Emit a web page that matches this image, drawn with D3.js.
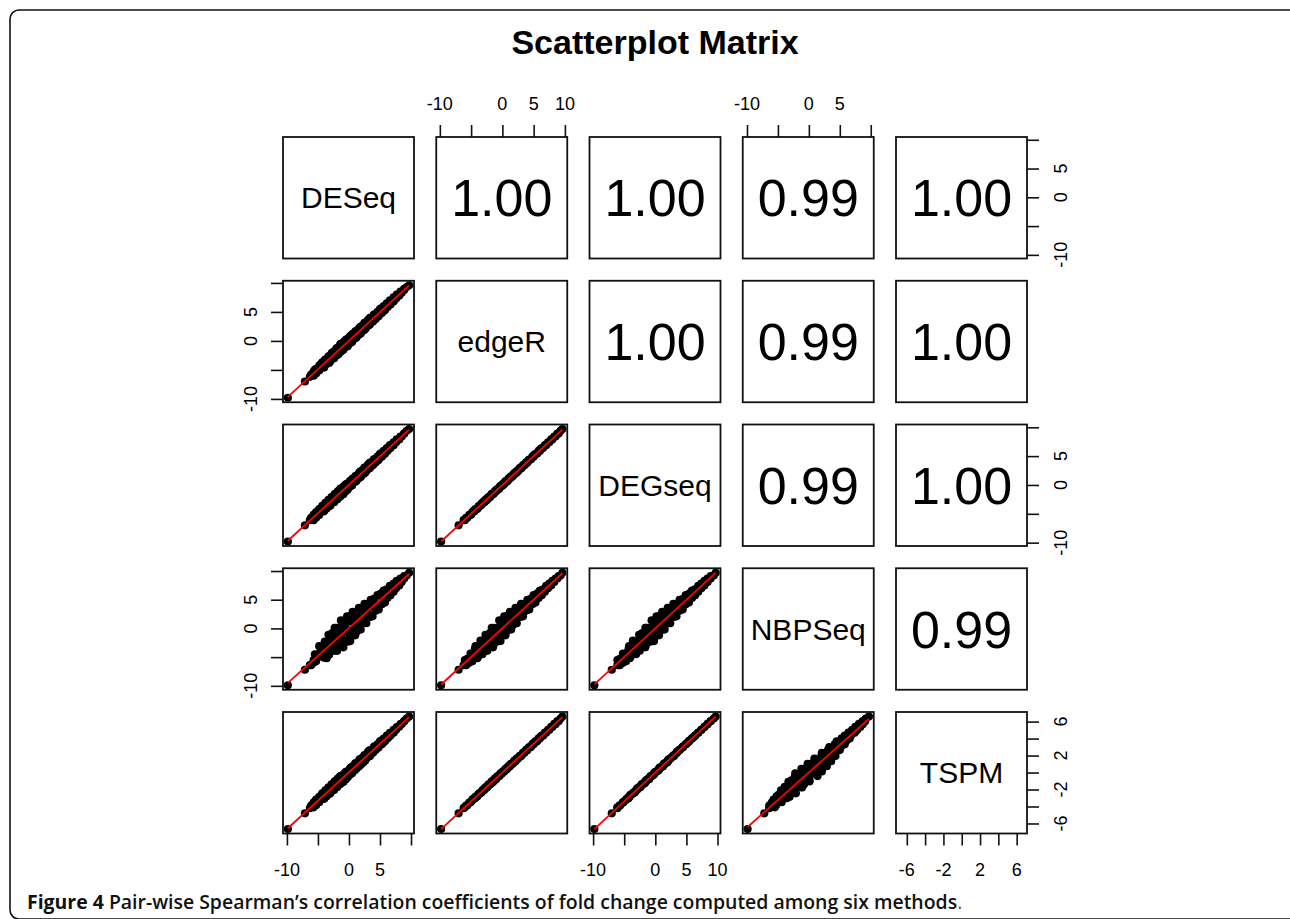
<!DOCTYPE html>
<html><head><meta charset="utf-8">
<script src="https://cdn.jsdelivr.net/npm/d3@7"></script>
<style>body{margin:0;background:#fff}svg{display:block}</style>
</head><body>
<svg id="c" width="1290" height="919"></svg>
<script>
// ---------------- data ----------------
const methods = ["DESeq", "edgeR", "DEGseq", "NBPSeq", "TSPM"];

// log fold change of the same genes, one array per method
const edger = [-9.8,-7.0,-6.2,-6.0,-5.8,-5.6,-5.3,-5.1,-4.8,-4.5,-4.3,-4.0,-3.7,-3.5,-3.2,-2.9,-2.7,-2.4,-2.2,-1.9,
  -1.7,-1.5,-1.2,-1.0,-0.8,-0.5,-0.3,-0.1,0.1,0.3,0.5,0.7,1.0,1.2,1.4,1.6,1.9,2.1,2.3,2.6,
  2.8,3.0,3.3,3.5,3.8,4.0,4.3,4.5,4.8,5.0,5.3,5.5,5.8,6.0,6.3,6.5,6.8,7.0,7.3,7.5,
  7.8,8.0,8.3,8.5,8.8,9.0,9.3,9.6,
  -5.0,-4.6,-4.1,-3.8,-3.3,-3.0,-2.6,-2.3,-2.0,-1.6,-1.3,-0.9,-0.6,-0.2,0.2,0.6,0.9,1.3,1.7,2.0,
  2.4,2.7,3.1,3.4,3.9,4.2,4.6,5.1,5.6,6.1,
  -4.4,-3.9,-3.4,-2.8,-2.5,-2.1,-1.8,-1.4,-1.1,-0.7,-0.4,0.0,0.4,0.8,1.1,1.5,1.8,2.2,2.9,3.6];
const deseq = [-9.85,-7.1,-6.3,-5.7,-6.1,-5.3,-5.7,-4.8,-5.3,-4.1,-4.8,-3.6,-4.3,-3.0,-3.8,-2.4,-3.3,-1.9,-2.8,-1.4,
  -2.3,-0.9,-1.8,-0.5,-1.4,-1.3,0.2,-0.8,0.6,-0.3,1.0,0.1,1.5,0.6,1.9,1.1,2.4,1.6,2.8,2.1,
  3.3,2.5,3.8,3.0,4.3,3.5,4.8,4.0,5.3,4.6,5.8,5.0,6.2,5.6,6.7,6.1,7.2,6.6,7.6,7.2,
  8.1,7.7,8.5,8.3,8.9,8.9,9.3,9.7,
  -5.5,-4.0,-4.6,-3.2,-3.9,-2.4,-3.2,-1.7,-2.7,-1.0,-2.0,-0.2,-1.4,0.5,-0.5,1.2,0.3,1.9,1.1,2.6,
  1.8,3.2,2.5,3.9,3.3,4.7,4.1,5.5,5.2,6.4,
  -4.0,-4.4,-3.0,-3.3,-2.0,-2.6,-1.3,-1.9,-0.6,-1.2,0.1,-0.5,0.9,0.3,1.6,1.0,2.3,1.7,3.4,3.1];
const degseq = [-9.8,-7.0,-6.1,-6.1,-5.7,-5.7,-5.2,-5.2,-4.7,-4.6,-4.2,-4.1,-3.6,-3.6,-3.1,-3.0,-2.6,-2.5,-2.1,-2.0,
  -1.6,-1.6,-1.1,-1.1,-0.7,-0.6,-0.2,-0.2,0.2,0.2,0.6,0.6,1.1,1.1,1.5,1.5,2.0,2.0,2.4,2.5,
  2.9,2.9,3.4,3.4,3.9,3.9,4.4,4.4,4.9,4.9,5.4,5.4,5.9,5.9,6.4,6.4,6.9,6.9,7.4,7.4,
  7.9,7.9,8.4,8.4,8.9,8.9,9.4,9.7,
  -5.1,-4.5,-4.2,-3.7,-3.4,-2.9,-2.7,-2.2,-2.1,-1.5,-1.4,-0.8,-0.7,-0.1,0.1,0.7,0.8,1.4,1.6,2.1,
  2.3,2.8,3.0,3.5,3.8,4.3,4.5,5.2,5.5,6.2,
  -4.3,-4.0,-3.3,-2.9,-2.4,-2.2,-1.7,-1.5,-1.0,-0.8,-0.3,-0.1,0.5,0.7,1.2,1.4,1.9,2.1,3.0,3.5];
const nbpseq = [-9.9,-7.2,-6.4,-5.5,-6.4,-5.3,-6.0,-4.4,-5.7,-4.3,-3.1,-5.2,-3.3,-2.1,-4.5,-3.2,-1.1,-3.9,-1.6,-2.5,
  0.1,-3.3,-1.0,0.0,-2.0,1.4,-2.2,0.3,-0.5,2.1,-1.2,1.5,0.8,2.9,-0.2,1.9,1.0,3.6,0.9,3.2,
  2.3,4.3,2.1,3.6,3.1,5.0,3.3,4.9,4.2,5.8,4.5,5.7,5.3,6.6,5.8,6.8,6.4,7.4,7.0,7.8,
  7.5,8.3,8.1,8.7,8.7,9.1,9.2,9.7,
  -4.5,-5.1,-3.2,-4.6,-2.3,-3.9,-2.3,-3.3,-0.8,-2.0,0.1,-2.3,0.1,-1.1,1.5,-0.6,1.2,2.4,0.6,2.9,
  2.2,3.7,2.2,4.1,4.1,3.8,5.2,4.7,6.1,5.9,
  -3.6,-4.9,-3.0,-3.5,-1.2,-2.4,-1.2,-2.8,-0.6,-0.3,-1.6,1.0,0.1,2.2,0.2,2.0,1.3,3.4,2.0,4.3];
const tspm = [-6.65,-4.8,-4.2,-4.1,-3.9,-3.85,-3.55,-3.5,-3.2,-3.1,-2.85,-2.8,-2.45,-2.45,-2.1,-2.05,-1.75,-1.7,-1.4,-1.35,
  -1.05,-1.1,-0.72,-0.78,-0.45,-0.42,-0.1,-0.15,0.15,0.12,0.42,0.4,0.76,0.74,1.03,1.0,1.37,1.35,1.64,1.7,
  1.98,1.96,2.32,2.3,2.66,2.64,3.0,2.98,3.34,3.32,3.68,3.66,4.02,4.0,4.36,4.34,4.7,4.68,5.04,5.02,
  5.38,5.36,5.72,5.7,6.06,6.04,6.36,6.6,
  -3.45,-3.08,-2.84,-2.53,-2.29,-1.99,-1.82,-1.51,-1.41,-1.04,-0.93,-0.56,-0.46,-0.09,0.09,0.46,0.56,0.93,1.11,1.41,
  1.58,1.89,2.06,2.36,2.6,2.91,3.08,3.52,3.76,4.2,
  -3.02,-2.62,-2.34,-1.87,-1.73,-1.4,-1.25,-0.92,-0.78,-0.45,-0.3,0.03,0.24,0.57,0.72,1.05,1.19,1.53,1.94,2.48];

// Spearman coefficients shown in the upper panels (row, col)
const spearman = [
  [null, 1.00, 1.00, 0.99, 1.00],
  [null, null, 1.00, 0.99, 1.00],
  [null, null, null, 0.99, 1.00],
  [null, null, null, null, 0.99],
  [null, null, null, null, null]
];

// tick values and visible tick labels
const foldTicks = [-10, -5, 0, 5, 10];
const tspmTicks = [-6, -4, -2, 0, 2, 4, 6];
const foldLabelsFull = [-10, 0, 5, 10];
const foldLabelsShort = [-10, 0, 5];
const tspmLabels = [-6, -2, 2, 6];

const titleText = "Scatterplot Matrix";
const captionBold = "Figure 4";
const captionBody = " Pair-wise Spearman\u2019s correlation coefficients of fold change computed among six methods";

// ---------------- drawing ----------------
const values = [deseq, edger, degseq, nbpseq, tspm];
const tickSets = [foldTicks, foldTicks, foldTicks, foldTicks, tspmTicks];
const axesTop = {1: foldLabelsFull, 3: foldLabelsShort};
const axesBottom = {0: foldLabelsShort, 2: foldLabelsFull, 4: tspmLabels};
const axesLeft = {1: foldLabelsShort, 3: foldLabelsShort};
const axesRight = {0: foldLabelsShort, 2: foldLabelsShort, 4: tspmLabels};

const svg = d3.select("#c");
const FONT = "'Liberation Sans', Arial, sans-serif";
const W = 131, H = 121.5;
const colX = j => 283 + j * 153.25;
const rowY = i => 137 + i * 143.75;

// frame
svg.append("rect").attr("x", 10).attr("y", 10).attr("width", 1290).attr("height", 909)
  .attr("rx", 9).attr("fill", "none").attr("stroke", "#111").attr("stroke-width", 1.6);

// title
svg.append("text").attr("x", 655).attr("y", 54).attr("text-anchor", "middle")
  .attr("font-family", FONT).attr("font-weight", "bold").attr("font-size", 34).text(titleText);

const xs = [], ys = [];
values.forEach((v, k) => {
  const e = d3.extent(v), pad = (e[1] - e[0]) * 0.04;
  const dom = [e[0] - pad, e[1] + pad];
  xs[k] = d3.scaleLinear().domain(dom).range([colX(k), colX(k) + W]);
  ys[k] = d3.scaleLinear().domain(dom).range([rowY(k) + H, rowY(k)]);
});

const defs = svg.append("defs");

for (let i = 0; i < 5; i++) {
  for (let j = 0; j < 5; j++) {
    const x0 = colX(j), y0 = rowY(i);
    const g = svg.append("g");
    if (i === j) {
      g.append("text").attr("x", x0 + W / 2).attr("y", y0 + H / 2 + 10.7)
        .attr("text-anchor", "middle").attr("font-family", FONT).attr("font-size", 30)
        .text(methods[i]);
    } else if (i < j) {
      g.append("text").attr("x", x0 + W / 2).attr("y", y0 + H / 2 + 18.6)
        .attr("text-anchor", "middle").attr("font-family", FONT).attr("font-size", 52)
        .text(spearman[i][j].toFixed(2));
    } else {
      const id = "clip" + i + j;
      defs.append("clipPath").attr("id", id).append("rect")
        .attr("x", x0).attr("y", y0).attr("width", W).attr("height", H);
      const pg = g.append("g").attr("clip-path", `url(#${id})`);
      const xv = values[j], yv = values[i];
      const pts = xv.map((x, n) => [x, yv[n]]);
      pg.selectAll("circle").data(pts).join("circle")
        .attr("cx", d => xs[j](d[0])).attr("cy", d => ys[i](d[1]))
        .attr("r", 4.1).attr("fill", "#000");
      // least-squares smoother
      const mx = d3.mean(xv), my = d3.mean(yv);
      const sxy = d3.sum(pts, d => (d[0] - mx) * (d[1] - my));
      const sxx = d3.sum(xv, x => (x - mx) * (x - mx));
      const b = sxy / sxx, a = my - b * mx;
      const ex = d3.extent(xv);
      pg.append("path").datum(ex.map(x => [x, a + b * x]))
        .attr("d", d3.line().x(d => xs[j](d[0])).y(d => ys[i](d[1])))
        .attr("stroke", "#ff0000").attr("stroke-width", 1.8).attr("fill", "none");
    }
    g.append("rect").attr("x", x0).attr("y", y0).attr("width", W).attr("height", H)
      .attr("fill", "none").attr("stroke", "#111").attr("stroke-width", 1.8);
  }
}

function styleAxis(sel) {
  sel.select(".domain").remove();
  sel.selectAll(".tick line").attr("stroke", "#111").attr("stroke-width", 1.6);
  sel.selectAll(".tick text").remove();
}
const labelStyle = s => s.attr("font-family", FONT).attr("font-size", 18).attr("fill", "#000");

// top axes
Object.entries(axesTop).forEach(([j, labels]) => {
  j = +j;
  svg.append("g").attr("transform", `translate(0,${rowY(0)})`)
    .call(d3.axisTop(xs[j]).tickValues(tickSets[j]).tickSize(12).tickFormat(""))
    .call(styleAxis);
  svg.append("g").selectAll("text").data(labels).join("text")
    .attr("x", d => xs[j](d)).attr("y", rowY(0) - 27).attr("text-anchor", "middle")
    .call(labelStyle).text(d => d);
});
// bottom axes
Object.entries(axesBottom).forEach(([j, labels]) => {
  j = +j;
  const yb = rowY(4) + H;
  svg.append("g").attr("transform", `translate(0,${yb})`)
    .call(d3.axisBottom(xs[j]).tickValues(tickSets[j]).tickSize(12).tickFormat(""))
    .call(styleAxis);
  svg.append("g").selectAll("text").data(labels).join("text")
    .attr("x", d => xs[j](d)).attr("y", yb + 42).attr("text-anchor", "middle")
    .call(labelStyle).text(d => d);
});
// left axes
Object.entries(axesLeft).forEach(([i, labels]) => {
  i = +i;
  const xl = colX(0);
  svg.append("g").attr("transform", `translate(${xl},0)`)
    .call(d3.axisLeft(ys[i]).tickValues(tickSets[i]).tickSize(12).tickFormat(""))
    .call(styleAxis);
  svg.append("g").selectAll("text").data(labels).join("text")
    .attr("transform", d => `translate(${xl - 26.5},${ys[i](d)}) rotate(-90)`)
    .attr("text-anchor", "middle").call(labelStyle).text(d => d);
});
// right axes
Object.entries(axesRight).forEach(([i, labels]) => {
  i = +i;
  const xr = colX(4) + W;
  svg.append("g").attr("transform", `translate(${xr},0)`)
    .call(d3.axisRight(ys[i]).tickValues(tickSets[i]).tickSize(12).tickFormat(""))
    .call(styleAxis);
  svg.append("g").selectAll("text").data(labels).join("text")
    .attr("transform", d => `translate(${xr + 40},${ys[i](d)}) rotate(-90)`)
    .attr("text-anchor", "middle").call(labelStyle).text(d => d);
});

// caption
const cap = svg.append("text").attr("x", 27).attr("y", 909)
  .attr("font-family", "'Open Sans', 'Noto Sans', sans-serif").attr("font-size", 18).attr("fill", "#111");
cap.append("tspan").attr("font-weight", 700).text(captionBold);
cap.append("tspan").attr("font-weight", 600).text(captionBody);
cap.append("tspan").attr("font-weight", 400).attr("fill", "#555").text(".");
const len = cap.node().getComputedTextLength();
cap.attr("font-size", 18 * 936 / len);
</script>
</body></html>
